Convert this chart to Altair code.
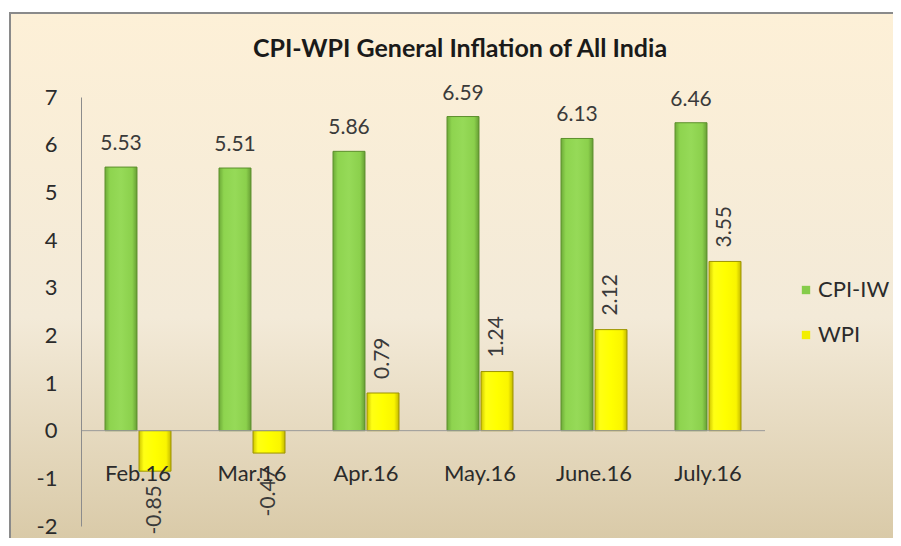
import altair as alt
import pandas as pd

months = ["Feb.16", "Mar.16", "Apr.16", "May.16", "June.16", "July.16"]
cpi = [5.53, 5.51, 5.86, 6.59, 6.13, 6.46]
wpi = [-0.85, -0.47, 0.79, 1.24, 2.12, 3.55]
series = ["CPI-IW", "WPI"]
y_ticks = [-2, -1, 0, 1, 2, 3, 4, 5, 6, 7]

rows = []
for m, c, w in zip(months, cpi, wpi):
    rows.append({"month": m, "series": "CPI-IW", "value": c, "label": f"{c:.2f}"})
    rows.append({"month": m, "series": "WPI", "value": w, "label": f"{w:.2f}"})
df = pd.DataFrame(rows)

FONT = "Lato"
W, H = 684, 429

x_enc = alt.X("month:N", sort=months, title=None,
              scale=alt.Scale(paddingInner=0, paddingOuter=0),
              axis=alt.Axis(labelAngle=0, domain=False, ticks=False, labelPadding=0,
                            offset=-63, labelFontSize=22, labelColor="#2b2b2b",
                            labelFont=FONT, zindex=1))
xo_enc = alt.XOffset("series:N", scale=alt.Scale(domain=series, paddingInner=0.06,
                                                   paddingOuter=0.706))
y_enc = alt.Y("value:Q", title=None,
              scale=alt.Scale(domain=[-2, 7], nice=False, zero=False),
              axis=alt.Axis(values=y_ticks, grid=False, ticks=False, labelPadding=24,
                            labelExpr="'' + datum.value",
                            domainColor="#8c8c8c", domainWidth=1, labelFontSize=22,
                            labelColor="#2b2b2b", labelFont=FONT, zindex=1))

def grad_h(stops):
    return alt.LinearGradient(gradient="linear", x1=0, x2=1, y1=0, y2=0,
                              stops=[alt.GradientStop(offset=o, color=c) for o, c in stops])

green = grad_h([(0, "#6DAA38"), (0.15, "#8ED44F"), (0.5, "#96DA58"), (0.85, "#8BD04C"), (1, "#679E34")])
yellow = grad_h([(0, "#CFC600"), (0.15, "#FFFF14"), (0.5, "#FFFF00"), (0.85, "#FAF500"), (1, "#C4BA00")])

bg_grad = alt.LinearGradient(gradient="linear", x1=0, x2=0, y1=0, y2=1,
                             stops=[alt.GradientStop(offset=0, color="#FDF0D7"),
                                    alt.GradientStop(offset=0.55, color="#F3EAD8"),
                                    alt.GradientStop(offset=1, color="#D6C6A2")])

base = alt.Chart(df)

background = alt.Chart(pd.DataFrame({"a": [0]})).mark_rect(
    fill=bg_grad, stroke="#8a8a8a", strokeWidth=2, clip=False
).encode(x=alt.value(-71), x2=alt.value(840), y=alt.value(-84), y2=alt.value(470))

bars_cpi = base.transform_filter(alt.datum.series == "CPI-IW").mark_bar(
    fill=green, stroke="#5C8F2C", strokeWidth=1
).encode(x=x_enc, xOffset=xo_enc, y=y_enc)

bars_wpi = base.transform_filter(alt.datum.series == "WPI").mark_bar(
    fill=yellow, stroke="#9C9300", strokeWidth=1
).encode(x=x_enc, xOffset=xo_enc, y=y_enc)

zero = alt.Chart(pd.DataFrame({"a": [0]})).mark_rule(color="#9a9a9a", strokeWidth=1).encode(
    y=alt.datum(0))

legend_layer = base.mark_square(opacity=0, size=1).encode(
    x=x_enc, xOffset=xo_enc, y=y_enc,
    color=alt.Color("series:N", scale=alt.Scale(domain=series, range=["#86CC4A", "#F2EE00"]),
                    legend=alt.Legend(title=None, orient="none", legendX=714, legendY=182,
                                      symbolType="square", symbolSize=70, symbolOpacity=1,
                                      symbolStrokeWidth=0, labelFontSize=22, labelFont=FONT,
                                      labelColor="#2b2b2b", rowPadding=23, labelOffset=1,
                                      padding=0, zindex=1)))

txt_cpi = base.transform_filter(alt.datum.series == "CPI-IW").mark_text(
    baseline="alphabetic", dy=-17, fontSize=21, font=FONT, color="#3a3a3a"
).encode(x=x_enc, xOffset=xo_enc, y=y_enc, text="label:N")

txt_wpi_pos = base.transform_filter(
    (alt.datum.series == "WPI") & (alt.datum.value >= 0)).mark_text(
    angle=270, align="left", baseline="middle", dx=14, fontSize=21, font=FONT, color="#3a3a3a"
).encode(x=x_enc, xOffset=xo_enc, y=y_enc, text="label:N")

txt_wpi_neg = base.transform_filter(
    (alt.datum.series == "WPI") & (alt.datum.value < 0)).mark_text(
    angle=270, align="right", baseline="middle", dx=-14, fontSize=21, font=FONT, color="#3a3a3a"
).encode(x=x_enc, xOffset=xo_enc, y=y_enc, text="label:N")

chart = alt.layer(
    background, bars_cpi, bars_wpi, zero, legend_layer, txt_cpi, txt_wpi_pos, txt_wpi_neg
).properties(
    width=W, height=H,
    title=alt.Title("CPI-WPI General Inflation of All India", font=FONT, fontSize=25,
                    fontWeight="bold", color="#1a1a1a", anchor="middle", frame="group",
                    dx=37, dy=83, offset=33, zindex=1),
    autosize=alt.AutoSizeParams(type="none"),
    padding={"left": 73, "top": 89, "right": 128, "bottom": 12},
).configure_view(stroke=None).configure(background="white", font=FONT)

chart.save("out.html", embed_options={"renderer": "svg", "actions": False})
